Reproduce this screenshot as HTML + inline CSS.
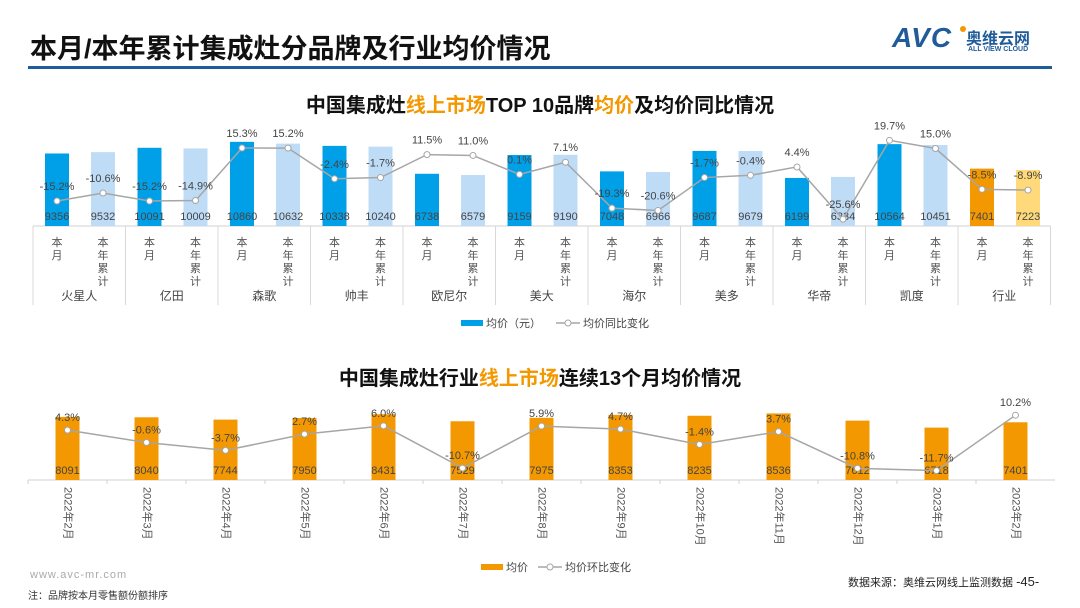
<!DOCTYPE html>
<html><head><meta charset="utf-8"><style>
body{margin:0;width:1080px;height:608px;background:#fff;overflow:hidden;font-family:"Liberation Sans","Noto Sans CJK SC",sans-serif;}
#root{position:relative;width:1080px;height:608px;}
.abs{position:absolute;}
</style></head><body><div id="root">
<div class="abs" style="left:30px;top:27px;font-size:27px;font-weight:bold;color:#111;">本月/本年累计集成灶分品牌及行业均价情况</div>
<div class="abs" style="left:28px;top:66px;width:1024px;height:3px;background:#1f5c99;"></div>
<div class="abs" style="left:892px;top:22px;width:160px;height:36px;">
  <span style="position:absolute;left:0;top:0;font-size:28px;font-weight:bold;font-style:italic;color:#1f5c99;letter-spacing:1px;">AVC</span>
  <span style="position:absolute;left:68px;top:4px;width:6px;height:6px;border-radius:3px;background:#f39800;"></span>
  <span style="position:absolute;left:74px;top:3px;font-size:16px;font-weight:bold;color:#1f5c99;">奥维云网</span>
  <span style="position:absolute;left:76px;top:24px;font-size:7px;font-weight:bold;color:#1f5c99;">ALL VIEW CLOUD</span>
</div>
<div class="abs" style="left:0;width:1080px;text-align:center;top:89px;font-size:20px;font-weight:bold;color:#111;">中国集成灶<span style="color:#f39800">线上市场</span>TOP 10品牌<span style="color:#f39800">均价</span>及均价同比情况</div>
<div class="abs" style="left:0;width:1080px;text-align:center;top:362px;font-size:20px;font-weight:bold;color:#111;">中国集成灶行业<span style="color:#f39800">线上市场</span>连续13个月均价情况</div>
<svg id="chart" class="abs" style="left:0;top:0" width="1080" height="608"></svg>
<div class="abs" style="left:30px;top:569px;font-size:11px;color:#aaa;letter-spacing:1px;">www.avc-mr.com</div>
<div class="abs" style="left:28px;top:587px;font-size:10px;color:#333;">注：品牌按本月零售额份额排序</div>
<div class="abs" style="left:848px;top:574px;font-size:11px;color:#222;">数据来源：奥维云网线上监测数据 <span style="font-size:13px">-45-</span></div>
</div>
<script>
const brands=["火星人","亿田","森歌","帅丰","欧尼尔","美大","海尔","美多","华帝","凯度","行业"];
const monthPrice=[9356,10091,10860,10338,6738,9159,7048,9687,6199,10564,7401];
const ytdPrice=[9532,10009,10632,10240,6579,9190,6966,9679,6334,10451,7223];
const monthYoy=[-15.2,-15.2,15.3,-2.4,11.5,0.1,-19.3,-1.7,4.4,19.7,-8.5];
const ytdYoy=[-10.6,-14.9,15.2,-1.7,11.0,7.1,-20.6,-0.4,-25.6,15.0,-8.9];
const months=["2022年2月","2022年3月","2022年4月","2022年5月","2022年6月","2022年7月","2022年8月","2022年9月","2022年10月","2022年11月","2022年12月","2023年1月","2023年2月"];
const monthlyPrice=[8091,8040,7744,7950,8431,7529,7975,8353,8235,8536,7612,6718,7401];
const monthlyMom=[4.3,-0.6,-3.7,2.7,6.0,-10.7,5.9,4.7,-1.4,3.7,-10.8,-11.7,10.2];

const svg=document.getElementById('chart');
const NS='http://www.w3.org/2000/svg';
function mk(tag,attrs,txt){const e=document.createElementNS(NS,tag);for(const k in attrs)e.setAttribute(k,attrs[k]);if(txt!==undefined)e.textContent=txt;svg.appendChild(e);return e;}
const F='"Liberation Sans","Noto Sans CJK SC",sans-serif';

const tBase=226,tX0=33,tGW=92.5;
const tY=v=>tBase-v*0.00775;
const tL=p=>174.6-p*1.74;
const gx=i=>tX0+i*tGW;
mk('line',{x1:tX0,y1:tBase,x2:tX0+11*tGW,y2:tBase,stroke:'#d0d0d0'});
for(let i=0;i<=11;i++){const s=mk('line',{x1:gx(i),y1:tBase,x2:gx(i),y2:305,stroke:'#d8d8d8'});}
let pts=[];
brands.forEach((b,i)=>{
  const c1=gx(i)+24,c2=gx(i)+70;
  const ind=i===10;
  const r1=mk('rect',{x:c1-12,y:tY(monthPrice[i]),width:24,height:tBase-tY(monthPrice[i]),fill:ind?'#f39800':'#00a0e9'});
  
  const r2=mk('rect',{x:c2-12,y:tY(ytdPrice[i]),width:24,height:tBase-tY(ytdPrice[i]),fill:ind?'#ffd97a':'#bfdcf7'});
  
  mk('text',{x:c1,y:220,'text-anchor':'middle','font-size':11,fill:'#444','font-family':F},monthPrice[i]);
  mk('text',{x:c2,y:220,'text-anchor':'middle','font-size':11,fill:'#444','font-family':F},ytdPrice[i]);
  ['本','月'].forEach((ch,k)=>mk('text',{x:c1,y:246+k*13,'text-anchor':'middle','font-size':11,fill:'#555','font-family':F},ch));
  ['本','年','累','计'].forEach((ch,k)=>mk('text',{x:c2,y:246+k*13,'text-anchor':'middle','font-size':11,fill:'#555','font-family':F},ch));
  const bl=mk('text',{x:gx(i)+tGW/2,y:300,'text-anchor':'middle','font-size':12,fill:'#444','font-family':F},b);
  
  pts.push([c1,tL(monthYoy[i]),monthYoy[i]],[c2,tL(ytdYoy[i]),ytdYoy[i]]);
});
const tl=mk('polyline',{points:pts.map(p=>p[0]+','+p[1]).join(' '),fill:'none',stroke:'#a6a6a6','stroke-width':1.5});

pts.forEach(p=>{mk('circle',{cx:p[0],cy:p[1],r:3,fill:'#fff',stroke:'#a6a6a6'});
  mk('text',{x:p[0],y:p[1]-11,'text-anchor':'middle','font-size':11,fill:'#444','font-family':F},p[2].toFixed(1)+'%');});
mk('rect',{x:461,y:320,width:22,height:6,fill:'#00a0e9'});
mk('text',{x:486,y:327,'font-size':11,fill:'#444','font-family':F},'均价（元）');
mk('line',{x1:556,y1:323,x2:580,y2:323,stroke:'#a6a6a6','stroke-width':1.5});
mk('circle',{cx:568,cy:323,r:3,fill:'#fff',stroke:'#a6a6a6'});
mk('text',{x:583,y:327,'font-size':11,fill:'#444','font-family':F},'均价同比变化');

const bBase=480,bX0=28,bW=79;
const bY=v=>bBase-v*0.0078;
const bL=p=>441-p*2.53;
mk('line',{x1:bX0,y1:bBase,x2:bX0+13*bW,y2:bBase,stroke:'#d0d0d0'});
let bp=[];
months.forEach((m,i)=>{
  const c=bX0+bW*i+bW/2;
  mk('line',{x1:bX0+bW*i,y1:bBase,x2:bX0+bW*i,y2:bBase+4,stroke:'#d0d0d0'});
  const r=mk('rect',{x:c-12,y:bY(monthlyPrice[i]),width:24,height:bBase-bY(monthlyPrice[i]),fill:'#f39800'});
  
  mk('text',{x:c,y:474,'text-anchor':'middle','font-size':11,fill:'#444','font-family':F},monthlyPrice[i]);
  const t=mk('text',{x:c,y:487,'font-size':11,fill:'#555','font-family':F,transform:`rotate(90 ${c} 487)`,'dominant-baseline':'middle'},m);
  
  bp.push([c,bL(monthlyMom[i]),monthlyMom[i]]);
});
const bl2=mk('polyline',{points:bp.map(p=>p[0]+','+p[1]).join(' '),fill:'none',stroke:'#a6a6a6','stroke-width':1.5});

bp.forEach(p=>{mk('circle',{cx:p[0],cy:p[1],r:3,fill:'#fff',stroke:'#a6a6a6'});
  mk('text',{x:p[0],y:p[1]-9,'text-anchor':'middle','font-size':11,fill:'#444','font-family':F},p[2].toFixed(1)+'%');});
mk('rect',{x:481,y:564,width:22,height:6,fill:'#f39800'});
mk('text',{x:506,y:571,'font-size':11,fill:'#444','font-family':F},'均价');
mk('line',{x1:538,y1:567,x2:562,y2:567,stroke:'#a6a6a6','stroke-width':1.5});
mk('circle',{cx:550,cy:567,r:3,fill:'#fff',stroke:'#a6a6a6'});
mk('text',{x:565,y:571,'font-size':11,fill:'#444','font-family':F},'均价环比变化');
</script>
</body></html>
